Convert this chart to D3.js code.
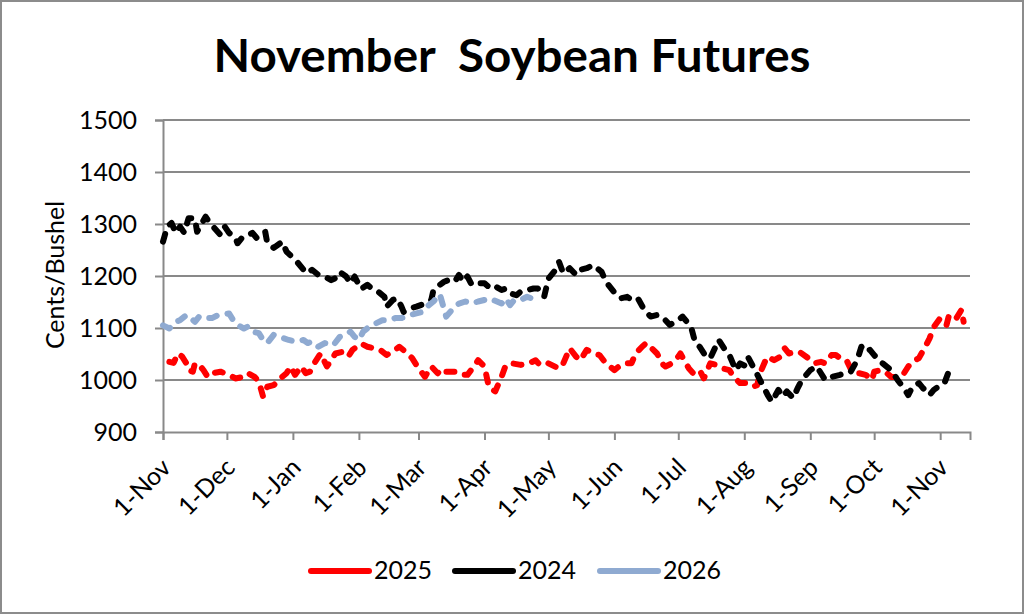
<!DOCTYPE html>
<html><head><meta charset="utf-8">
<script src="https://cdn.jsdelivr.net/npm/d3@7"></script>
<style>
body{margin:0;background:#fff}
svg{display:block}
text{font-family:Lato,"Liberation Sans",sans-serif;fill:#000}
</style>
</head><body>
<svg id="chart" width="1024" height="614"></svg>
<script>
// ---------------- DATA ----------------
const titleText = "November  Soybean Futures";
const yLabel = "Cents/Bushel";
const yTicks = [900, 1000, 1100, 1200, 1300, 1400, 1500];
const xStart = "2024-11-01";
const xEnd = "2025-11-15";
const seriesNames = ["2025", "2024", "2026"];

const dates2025 = ["2024-11-04","2024-11-06","2024-11-08","2024-11-10","2024-11-12","2024-11-13","2024-11-15","2024-11-16","2024-11-18","2024-11-20","2024-11-22","2024-11-24","2024-11-28","2024-12-02","2024-12-05","2024-12-09","2024-12-11","2024-12-14","2024-12-16","2024-12-18","2024-12-20","2024-12-23","2024-12-27","2024-12-29","2024-12-31","2025-01-02","2025-01-05","2025-01-07","2025-01-09","2025-01-11","2025-01-14","2025-01-17","2025-01-21","2025-01-24","2025-01-27","2025-01-29","2025-02-02","2025-02-05","2025-02-08","2025-02-11","2025-02-14","2025-02-18","2025-02-20","2025-02-23","2025-02-26","2025-02-28","2025-03-04","2025-03-07","2025-03-10","2025-03-12","2025-03-14","2025-03-18","2025-03-21","2025-03-24","2025-03-27","2025-03-29","2025-04-01","2025-04-03","2025-04-06","2025-04-09","2025-04-11","2025-04-14","2025-04-18","2025-04-22","2025-04-25","2025-04-27","2025-05-01","2025-05-06","2025-05-08","2025-05-11","2025-05-14","2025-05-16","2025-05-19","2025-05-22","2025-05-25","2025-05-28","2025-06-01","2025-06-04","2025-06-07","2025-06-09","2025-06-11","2025-06-14","2025-06-16","2025-06-21","2025-06-24","2025-06-25","2025-06-28","2025-07-01","2025-07-02","2025-07-06","2025-07-08","2025-07-11","2025-07-13","2025-07-16","2025-07-19","2025-07-22","2025-07-25","2025-07-27","2025-07-30","2025-08-02","2025-08-05","2025-08-07","2025-08-09","2025-08-11","2025-08-12","2025-08-15","2025-08-18","2025-08-20","2025-08-22","2025-08-25","2025-08-27","2025-08-31","2025-09-03","2025-09-06","2025-09-08","2025-09-11","2025-09-13","2025-09-15","2025-09-18","2025-09-21","2025-09-24","2025-09-27","2025-09-30","2025-10-01","2025-10-04","2025-10-07","2025-10-09","2025-10-12","2025-10-15","2025-10-17","2025-10-19","2025-10-22","2025-10-25","2025-10-27","2025-10-29","2025-11-01","2025-11-04","2025-11-05","2025-11-08","2025-11-11","2025-11-12"];
const values2025 = [1035,1033,1051,1045,1032,1019,1016,1032,1029,1019,1006,1013,1016,1010,1003,1006,1013,1006,997,968,987,990,1006,1013,1026,1010,1026,1013,1016,1032,1051,1026,1051,1054,1045,1058,1070,1064,1061,1058,1048,1058,1064,1054,1042,1029,1006,1026,1013,1022,1016,1016,1010,1010,1026,1038,1026,987,978,1006,1029,1032,1029,1032,1038,1029,1032,1022,1032,1061,1045,1038,1058,1051,1048,1032,1019,1029,1032,1032,1051,1064,1071,1051,1029,1026,1032,1045,1051,1022,1013,1019,1003,1032,1029,1022,1019,1006,994,994,987,990,1019,1038,1045,1038,1045,1061,1051,1054,1054,1042,1032,1035,1032,1048,1048,1042,1038,1013,1013,1010,1000,1016,1019,1013,1006,1006,1013,1026,1035,1042,1064,1080,1102,1119,1106,1122,1115,1135,1112];

const dates2024 = ["2024-11-01","2024-11-03","2024-11-05","2024-11-07","2024-11-09","2024-11-11","2024-11-13","2024-11-16","2024-11-17","2024-11-21","2024-11-23","2024-11-28","2024-11-30","2024-12-02","2024-12-05","2024-12-06","2024-12-08","2024-12-10","2024-12-13","2024-12-15","2024-12-19","2024-12-20","2024-12-23","2024-12-27","2024-12-29","2025-01-03","2025-01-06","2025-01-08","2025-01-10","2025-01-13","2025-01-16","2025-01-19","2025-01-21","2025-01-23","2025-01-26","2025-01-28","2025-01-30","2025-02-02","2025-02-05","2025-02-07","2025-02-10","2025-02-13","2025-02-14","2025-02-17","2025-02-19","2025-02-21","2025-02-22","2025-02-25","2025-02-28","2025-03-02","2025-03-04","2025-03-07","2025-03-08","2025-03-11","2025-03-13","2025-03-15","2025-03-18","2025-03-20","2025-03-22","2025-03-24","2025-03-26","2025-03-29","2025-04-01","2025-04-03","2025-04-05","2025-04-09","2025-04-11","2025-04-13","2025-04-16","2025-04-18","2025-04-21","2025-04-24","2025-04-26","2025-04-29","2025-05-01","2025-05-04","2025-05-06","2025-05-08","2025-05-11","2025-05-14","2025-05-16","2025-05-19","2025-05-22","2025-05-26","2025-05-28","2025-06-02","2025-06-04","2025-06-07","2025-06-09","2025-06-12","2025-06-15","2025-06-18","2025-06-21","2025-06-24","2025-06-27","2025-07-01","2025-07-03","2025-07-07","2025-07-09","2025-07-11","2025-07-14","2025-07-16","2025-07-20","2025-07-23","2025-07-25","2025-07-28","2025-07-30","2025-08-02","2025-08-03","2025-08-06","2025-08-08","2025-08-10","2025-08-12","2025-08-14","2025-08-17","2025-08-19","2025-08-21","2025-08-24","2025-08-26","2025-08-28","2025-09-01","2025-09-04","2025-09-06","2025-09-08","2025-09-11","2025-09-15","2025-09-17","2025-09-20","2025-09-23","2025-09-25","2025-09-27","2025-09-29","2025-10-01","2025-10-03","2025-10-05","2025-10-08","2025-10-10","2025-10-12","2025-10-15","2025-10-17","2025-10-19","2025-10-22","2025-10-24","2025-10-27","2025-10-29","2025-10-31","2025-11-03","2025-11-05","2025-11-06"];
const values2024 = [1266,1295,1302,1283,1295,1283,1311,1311,1285,1314,1302,1279,1295,1283,1273,1263,1273,1276,1283,1273,1285,1263,1254,1266,1247,1227,1212,1205,1212,1202,1199,1192,1196,1208,1199,1186,1199,1175,1183,1176,1170,1160,1141,1154,1157,1141,1131,1138,1141,1144,1147,1154,1173,1183,1189,1192,1189,1202,1189,1199,1183,1186,1186,1179,1183,1173,1176,1167,1163,1170,1173,1176,1176,1160,1195,1210,1227,1205,1215,1202,1212,1215,1221,1208,1189,1163,1157,1160,1154,1157,1135,1122,1125,1119,1106,1115,1122,1102,1071,1064,1045,1042,1077,1058,1048,1019,1032,1026,1042,1019,1003,987,971,958,981,968,978,965,984,1000,1019,1026,1013,1000,1006,1010,1013,1016,1038,1064,1054,1058,1048,1038,1032,1022,1013,1000,984,971,987,994,984,971,981,987,994,1016,1026];

const dates2026 = ["2024-11-01","2024-11-04","2024-11-07","2024-11-09","2024-11-12","2024-11-14","2024-11-16","2024-11-18","2024-11-21","2024-11-24","2024-11-27","2024-12-02","2024-12-04","2024-12-06","2024-12-09","2024-12-11","2024-12-13","2024-12-16","2024-12-18","2024-12-20","2024-12-23","2024-12-30","2025-01-02","2025-01-06","2025-01-08","2025-01-10","2025-01-13","2025-01-16","2025-01-20","2025-01-23","2025-01-26","2025-01-28","2025-01-30","2025-02-01","2025-02-03","2025-02-06","2025-02-09","2025-02-12","2025-02-15","2025-02-18","2025-02-21","2025-02-25","2025-02-28","2025-03-03","2025-03-05","2025-03-08","2025-03-11","2025-03-14","2025-03-18","2025-03-20","2025-03-23","2025-03-26","2025-03-29","2025-04-01","2025-04-03","2025-04-05","2025-04-09","2025-04-11","2025-04-13","2025-04-15","2025-04-18","2025-04-21","2025-04-23"];
const values2026 = [1105,1099,1112,1115,1125,1119,1112,1122,1119,1119,1125,1128,1115,1106,1099,1103,1093,1090,1077,1071,1087,1077,1074,1077,1071,1074,1064,1071,1067,1083,1087,1093,1083,1077,1093,1103,1109,1115,1115,1119,1119,1125,1128,1131,1141,1151,1165,1122,1141,1147,1151,1147,1151,1154,1151,1154,1147,1157,1144,1154,1154,1160,1157];

// ---------------- STYLE ----------------
const colors = {"2025": "#FF0000", "2024": "#000000", "2026": "#8FAAD1"};
const gridColor = "#898989";

// ---------------- CHART ----------------
const parse = d3.timeParse("%Y-%m-%d");
const svg = d3.select("#chart");
const W = 1024, H = 614;
const plot = {left: 163, right: 970, top: 120, bottom: 432};

svg.append("rect").attr("x", 1).attr("y", 1).attr("width", W - 2).attr("height", H - 2)
  .attr("fill", "#fff").attr("stroke", "#8c8c8c").attr("stroke-width", 2);

const x = d3.scaleTime().domain([parse(xStart), parse(xEnd)]).range([plot.left, plot.right]);
const y = d3.scaleLinear().domain([900, 1500]).range([plot.bottom, plot.top]);

// gridlines
svg.append("g").selectAll("line").data(yTicks.filter(v => v !== 900)).join("line")
  .attr("x1", plot.left).attr("x2", plot.right)
  .attr("y1", d => y(d)).attr("y2", d => y(d))
  .attr("stroke", gridColor).attr("stroke-width", 2);

// y axis
const yAxis = svg.append("g").attr("transform", `translate(${plot.left},0)`)
  .call(d3.axisLeft(y).tickValues(yTicks).tickSize(8).tickPadding(18).tickFormat(d3.format("d")));
yAxis.select(".domain").attr("stroke", gridColor).attr("stroke-width", 2);
yAxis.selectAll(".tick line").attr("stroke", gridColor).attr("stroke-width", 2);
yAxis.selectAll("text").style("font-size", "25px").attr("fill", "#000");

// x axis
const monthTicks = d3.timeMonth.range(parse(xStart), d3.timeDay.offset(parse("2025-11-01"), 1));
const xAxis = svg.append("g").attr("transform", `translate(0,${plot.bottom})`)
  .call(d3.axisBottom(x).tickValues(monthTicks).tickSize(8).tickFormat(d3.timeFormat("%-d-%b")));
xAxis.select(".domain").attr("stroke", gridColor).attr("stroke-width", 2);
xAxis.selectAll(".tick line").attr("stroke", gridColor).attr("stroke-width", 2);
xAxis.selectAll("text")
  .attr("x", 0).attr("y", 0).attr("dy", 0)
  .attr("text-anchor", "end")
  .attr("transform", "translate(9,37) rotate(-45)")
  .style("font-size", "25px").attr("fill", "#000");

// y label
svg.append("text").attr("transform", `translate(64,275) rotate(-90)`)
  .attr("text-anchor", "middle").style("font-size", "25px").text(yLabel);

// title (keep the double space)
svg.append("text").attr("x", 512).attr("y", 72).attr("text-anchor", "middle")
  .style("font-size", "46px").style("font-weight", "bold").style("white-space", "pre")
  .attr("xml:space", "preserve")
  .attr("textLength", 597).attr("lengthAdjust", "spacingAndGlyphs")
  .text(titleText);

// series
const seriesData = {
  "2025": dates2025.map((d, i) => ({date: parse(d), value: values2025[i]})),
  "2024": dates2024.map((d, i) => ({date: parse(d), value: values2024[i]})),
  "2026": dates2026.map((d, i) => ({date: parse(d), value: values2026[i]}))
};
const line = d3.line().x(d => x(d.date)).y(d => y(d.value));
seriesNames.forEach(name => {
  svg.append("path").datum(seriesData[name])
    .attr("d", line).attr("fill", "none")
    .attr("stroke", colors[name]).attr("stroke-width", 6)
    .attr("stroke-linecap", "round").attr("stroke-linejoin", "round")
    .attr("stroke-dasharray", "8,11");
});

// legend
const legendX = [311, 455, 600];
const leg = svg.append("g");
seriesNames.forEach((name, i) => {
  leg.append("line").attr("x1", legendX[i]).attr("x2", legendX[i] + 58)
    .attr("y1", 571).attr("y2", 571)
    .attr("stroke", colors[name]).attr("stroke-width", 6).attr("stroke-linecap", "round");
  leg.append("text").attr("x", legendX[i] + 63).attr("y", 579)
    .style("font-size", "25px").text(name);
});
</script>
</body></html>
